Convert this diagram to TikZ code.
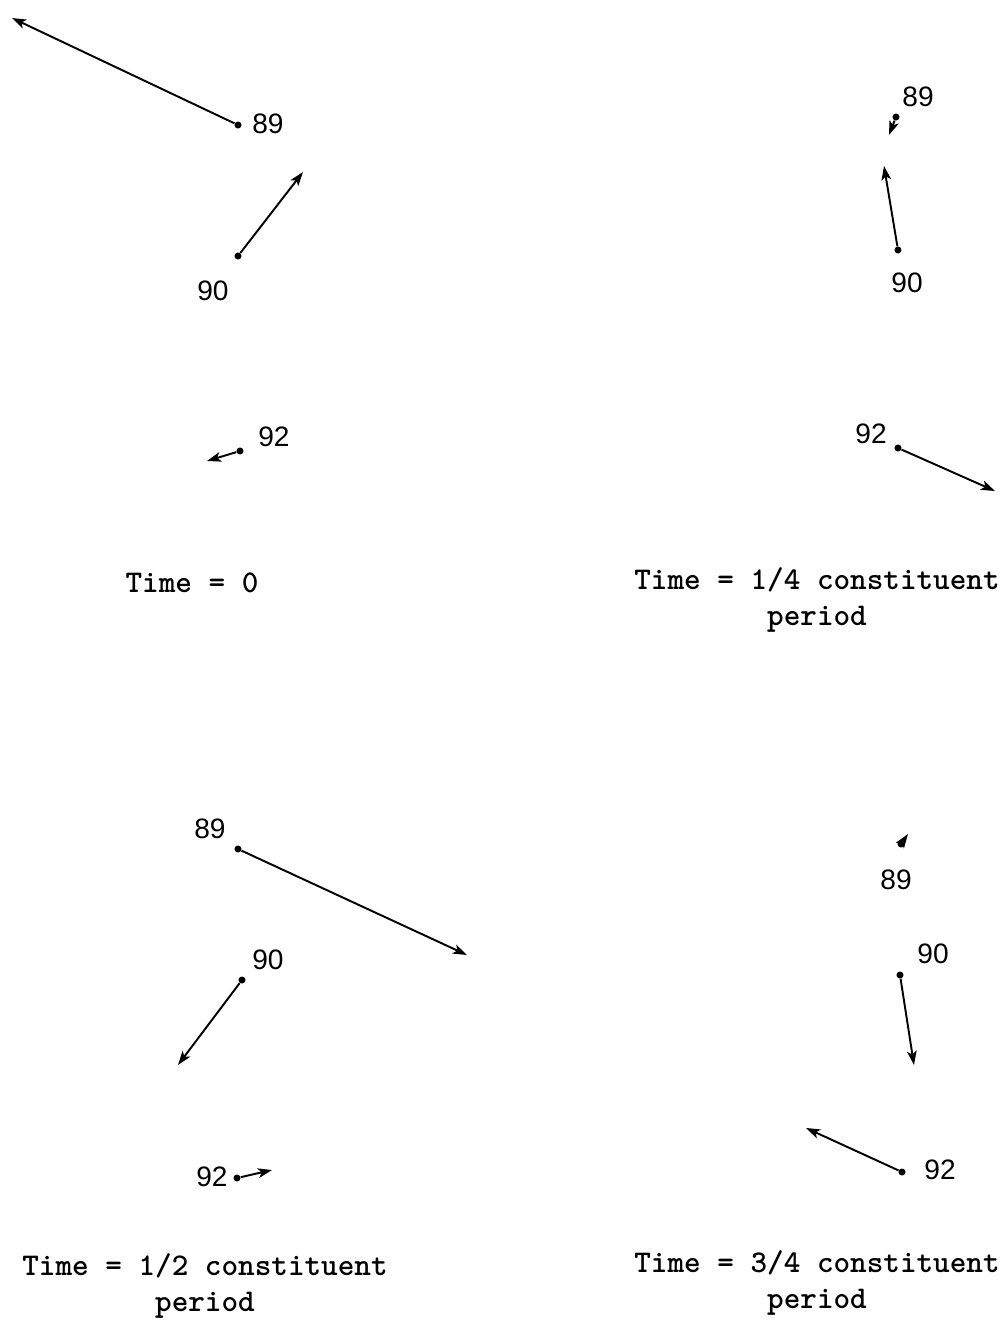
\documentclass[tikz,border=0pt]{standalone}
\usepackage{fontspec}
\newfontfamily\labelfont{Liberation Sans}
\usetikzlibrary{positioning, arrows.meta}

\begin{document}
\begin{tikzpicture}[
    x=0.02cm, y=-0.02cm,
    dot/.style={
        circle,
        fill,
        inner sep=0pt,
        minimum size=4pt
    },
    vec/.style={line width=1.1pt, -{Stealth[length=8pt, width=5.5pt, inset=2pt]}},
    lbl/.style={font=\labelfont\fontsize{16}{19}\selectfont},
    caption/.style={font=\ttfamily\bfseries\fontsize{18}{20}\selectfont, align=center}
]
\useasboundingbox (0,0) rectangle (1000,1320);

% time = 0
\node[dot] (a89) at (238,125) {};
\node[dot] (a90) at (238,256) {};
\node[dot] (a92) at (240,451) {};
\coordinate (ta89) at (12,18);
\coordinate (ta90) at (303,172);
\coordinate (ta92) at (207,461);
\node[lbl] (la89) at (268,124) {89};
\node[lbl] (la90) at (213,291) {90};
\node[lbl] (la92) at (274,437) {92};
\draw[vec] (a89) -- (ta89);
\draw[vec] (a90) -- (ta90);
\draw[vec] (a92) -- (ta92);
\node[caption] (capa) at (192,583) {Time = 0};

% time = 1/4
\node[dot] (b89) at (896,117) {};
\node[dot] (b90) at (898,250) {};
\node[dot] (b92) at (898,448) {};
\coordinate (tb89) at (889,135);
\coordinate (tb90) at (884,166);
\coordinate (tb92) at (995,491);
\node[lbl] (lb89) at (918,97) {89};
\node[lbl] (lb90) at (907,283) {90};
\node[lbl] (lb92) at (871,434) {92};
\draw[vec] (b89) -- (tb89);
\draw[vec] (b90) -- (tb90);
\draw[vec] (b92) -- (tb92);
\node[caption] (capb) at (817,600) {Time = 1/4 constituent\\period};

% time = 1/2
\node[dot] (c89) at (238,849) {};
\node[dot] (c90) at (242,980) {};
\node[dot] (c92) at (237,1178) {};
\coordinate (tc89) at (467,955);
\coordinate (tc90) at (178,1065);
\coordinate (tc92) at (272,1170);
\node[lbl] (lc89) at (210,829) {89};
\node[lbl] (lc90) at (268,960) {90};
\node[lbl] (lc92) at (212,1177) {92};
\draw[vec] (c89) -- (tc89);
\draw[vec] (c90) -- (tc90);
\draw[vec] (c92) -- (tc92);
\node[caption] (capc) at (205,1286) {Time = 1/2 constituent\\period};

% time = 3/4
\node[dot] (d89) at (901,844) {};
\node[dot] (d90) at (900,975) {};
\node[dot] (d92) at (902,1172) {};
\coordinate (td89) at (908,834);
\coordinate (td90) at (914,1065);
\coordinate (td92) at (806,1128);
\node[lbl] (ld89) at (896,880) {89};
\node[lbl] (ld90) at (933,954) {90};
\node[lbl] (ld92) at (940,1170) {92};
\draw[vec] (d89) -- (td89);
\draw[vec] (d90) -- (td90);
\draw[vec] (d92) -- (td92);
\node[caption] (capd) at (817,1283) {Time = 3/4 constituent\\period};

\end{tikzpicture}
\end{document}
